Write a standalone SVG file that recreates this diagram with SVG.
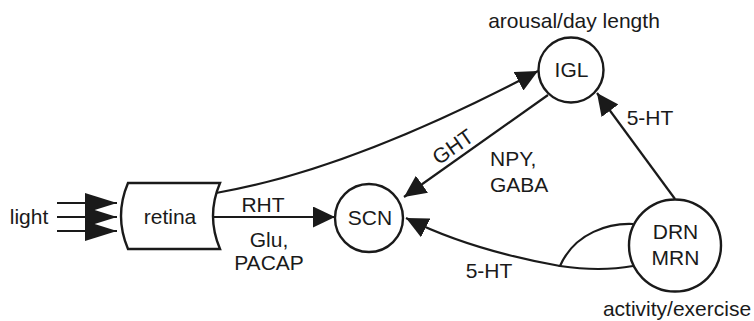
<svg xmlns="http://www.w3.org/2000/svg" width="754" height="321" viewBox="0 0 754 321">
<style>
text { font-family: "Liberation Sans", Arial, sans-serif; font-size: 21px; fill: #1a1a1a; }
.c { text-anchor: middle; }
.ln { fill: none; stroke: #1a1a1a; stroke-width: 2.2; }
.nd { fill: #fff; stroke: #1a1a1a; stroke-width: 2.4; }
</style>
<defs>
<marker id="ah" markerUnits="userSpaceOnUse" markerWidth="23" markerHeight="21" refX="22" refY="10.5" orient="auto">
<path d="M0,0 L22,10.5 L0,21 Z" fill="#1a1a1a"/>
</marker>
<marker id="lah" markerUnits="userSpaceOnUse" markerWidth="33" markerHeight="21" refX="32" refY="10" orient="auto">
<path d="M0,0 L32,10 L0,20 Z" fill="#1a1a1a"/>
</marker>
</defs>
<g id="connectors">
<line class="ln" x1="57" y1="203" x2="117" y2="203" marker-end="url(#lah)"/>
<line class="ln" x1="57" y1="217" x2="117" y2="217" marker-end="url(#lah)"/>
<line class="ln" x1="57" y1="231" x2="117" y2="231" marker-end="url(#lah)"/>
<path class="ln" d="M212,217 L335,217" marker-end="url(#ah)"/>
<path class="ln" d="M216,193 Q350,170 538,71" marker-end="url(#ah)"/>
<path class="ln" d="M548,95 L404,197" marker-end="url(#ah)"/>
<path class="ln" d="M675,199 L597,93" marker-end="url(#ah)"/>
<path class="ln" d="M633,224 C610,223 575,232 560,266 Q600,272 633,266"/>
<path class="ln" d="M560,266 Q470,250 406,218" marker-end="url(#ah)"/>
<text class="c" x="263" y="212">RHT</text>
<text class="c" x="269" y="247">Glu,</text>
<text class="c" x="269" y="270">PACAP</text>
<text class="c" transform="translate(453,147) rotate(-35)" x="0" y="7">GHT</text>
<text x="490" y="166">NPY,</text>
<text x="490" y="192">GABA</text>
<text class="c" x="650" y="125">5-HT</text>
<text class="c" x="489" y="278">5-HT</text>
</g>
<g id="light">
<text class="c" x="29" y="224">light</text>
</g>
<g id="retina">
<path class="nd" d="M128,183 L220,183 Q206,216 220,249 L128,249 Q114,216 128,183 Z"/>
<text class="c" x="170" y="224">retina</text>
</g>
<g id="SCN">
<circle class="nd" cx="369" cy="218" r="34"/>
<text class="c" x="370" y="225">SCN</text>
</g>
<g id="IGL">
<circle class="nd" cx="571" cy="70" r="32.5"/>
<text class="c" x="571.5" y="77">IGL</text>
<text class="c" x="574" y="28">arousal/day length</text>
</g>
<g id="DRN">
<circle class="nd" cx="675" cy="245.5" r="46"/>
<text class="c" x="675.5" y="239">DRN</text>
<text class="c" x="675.5" y="265">MRN</text>
<text class="c" x="677" y="316">activity/exercise</text>
</g>
</svg>
